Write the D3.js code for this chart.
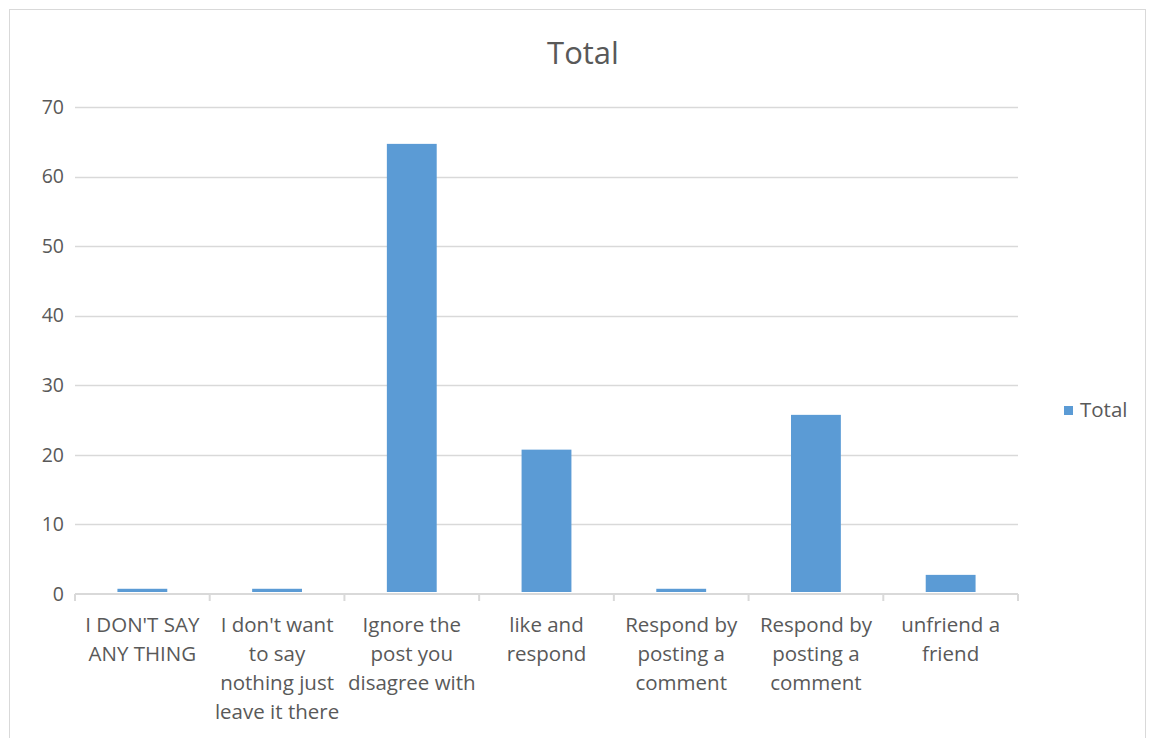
<!DOCTYPE html>
<html>
<head>
<meta charset="utf-8">
<script src="https://cdn.jsdelivr.net/npm/d3@7"></script>
<style>
  html, body { margin: 0; padding: 0; background: #fff; }
  svg { display: block; font-family: "Open Sans", "Noto Sans", sans-serif; }
</style>
</head>
<body>
<svg id="chart" width="1150" height="738"></svg>
<script>
// Responses to a post you disagree with
const categories = [
  "I DON'T SAY ANY THING",
  "I don't want to say nothing just leave it there",
  "Ignore the post you disagree with",
  "like and respond",
  "Respond by posting a comment",
  "Respond by posting a comment",
  "unfriend a friend"
];
const totals = [0.75, 0.75, 64.7, 20.75, 0.75, 25.75, 2.75];
const yTicks = [0, 10, 20, 30, 40, 50, 60, 70];
const seriesName = "Total";

const svg = d3.select("#chart");
const textColor = "#595959";
const gridColor = "#d9d9d9";
const barColor = "#5b9bd5";

// outer chart frame
svg.append("rect")
  .attr("x", 9.5).attr("y", 9.5)
  .attr("width", 1136).attr("height", 740)
  .attr("fill", "#fff").attr("stroke", gridColor).attr("stroke-width", 1);

const plot = { left: 75, right: 1018, top: 107, bottom: 594 };

const x = d3.scaleBand()
  .domain(d3.range(categories.length))
  .range([plot.left, plot.right])
  .paddingInner(0.63)
  .paddingOuter(0.315);

const xOuter = d3.scaleBand()
  .domain(d3.range(categories.length))
  .range([plot.left, plot.right]);

const y = d3.scaleLinear().domain([0, 70]).range([plot.bottom, plot.top]);

// title
svg.append("text")
  .attr("x", 583).attr("y", 64)
  .attr("text-anchor", "middle")
  .attr("font-size", 31)
  .attr("fill", textColor)
  .text("Total");

// gridlines
svg.append("g")
  .selectAll("line")
  .data(yTicks.filter(d => d > 0))
  .join("line")
  .attr("x1", plot.left).attr("x2", plot.right)
  .attr("y1", d => Math.round(y(d)) + 0.5)
  .attr("y2", d => Math.round(y(d)) + 0.5)
  .attr("stroke", gridColor).attr("stroke-width", 1.5);

// y axis labels
const yAxis = d3.axisLeft(y).tickValues(yTicks).tickSize(0).tickPadding(0);
const gy = svg.append("g").attr("transform", `translate(${plot.left - 11},0)`).call(yAxis);
gy.select(".domain").remove();
gy.selectAll("text")
  .attr("font-size", 19.5)
  .attr("font-family", "'Open Sans', 'Noto Sans', sans-serif")
  .attr("fill", textColor);

// bars
svg.append("g")
  .selectAll("rect")
  .data(totals)
  .join("rect")
  .attr("x", (d, i) => x(i))
  .attr("width", x.bandwidth())
  .attr("y", d => y(d))
  .attr("height", d => y(0) - y(d) - 2)
  .attr("fill", barColor);

// category axis
const xAxis = d3.axisBottom(xOuter).tickSize(0).tickFormat(() => "");
const gx = svg.append("g").attr("transform", `translate(0,${plot.bottom})`).call(xAxis);
gx.select(".domain").attr("stroke", gridColor).attr("stroke-width", 2).attr("d", `M${plot.left},0H${plot.right}`);
// tick marks at band edges
const edges = d3.range(categories.length + 1).map(i => i < categories.length ? xOuter(i) : plot.right);
svg.append("g")
  .selectAll("line")
  .data(edges)
  .join("line")
  .attr("x1", d => d).attr("x2", d => d)
  .attr("y1", plot.bottom).attr("y2", plot.bottom + 7)
  .attr("stroke", gridColor).attr("stroke-width", 2);

// wrapped category labels
const labelSize = 20.5;
const lineHeight = 29;
const maxWidth = 131;
const measurer = svg.append("text").attr("font-size", labelSize).attr("visibility", "hidden");
function wrap(str) {
  const words = str.split(" ");
  const lines = [];
  let cur = "";
  words.forEach(w => {
    const test = cur ? cur + " " + w : w;
    measurer.text(test);
    if (cur && measurer.node().getComputedTextLength() > maxWidth) {
      lines.push(cur);
      cur = w;
    } else {
      cur = test;
    }
  });
  if (cur) lines.push(cur);
  return lines;
}
const labels = svg.append("g");
categories.forEach((c, i) => {
  const t = labels.append("text")
    .attr("text-anchor", "middle")
    .attr("font-size", labelSize)
    .attr("fill", textColor);
  wrap(c).forEach((line, k) => {
    t.append("tspan")
      .attr("x", xOuter(i) + xOuter.bandwidth() / 2)
      .attr("y", 632 + k * lineHeight)
      .text(line);
  });
});
measurer.remove();

// legend
const legend = svg.append("g").attr("transform", "translate(1064,406)");
legend.append("rect").attr("width", 9).attr("height", 9).attr("fill", barColor);
legend.append("text")
  .attr("x", 16).attr("y", 11)
  .attr("font-size", 20.5)
  .attr("fill", textColor)
  .text(seriesName);
</script>
</body>
</html>
